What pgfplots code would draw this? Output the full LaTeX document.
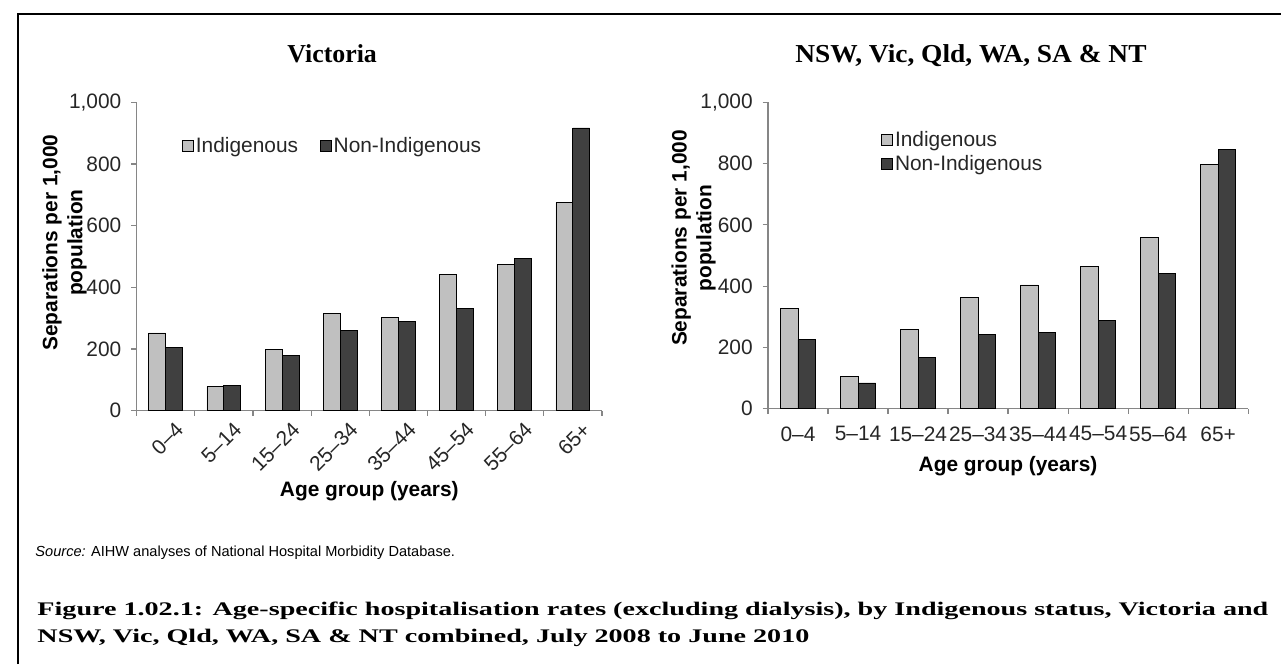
\documentclass[border=0pt]{standalone}
\usepackage{pgfplots}
\pgfplotsset{compat=1.18}
\usepackage{pgfplotstable}
\usepackage{graphicx}
\usepackage{fontspec}
\setmainfont{Liberation Sans}
\newfontfamily\serffont{Liberation Serif}

\definecolor{indig}{HTML}{C0C0C0}
\definecolor{nonind}{HTML}{404040}
\definecolor{axisgray}{HTML}{868686}
\definecolor{txt}{HTML}{262626}

\pgfplotstableread{
x ind non
0 252 206
1 78 83
2 198 178
3 314 260
4 302 289
5 443 331
6 473 493
7 676 917
}\vicdata

\pgfplotstableread{
x ind non
0 326 225
1 104 84
2 259 168
3 363 243
4 404 250
5 463 288
6 559 442
7 796 847
}\alldata

\newcommand\tfont{\fontsize{15.75}{18.75}\selectfont}
\newcommand\capfont{\serffont\bfseries\fontsize{14.5}{17}\selectfont}
\newcommand\capone{Figure 1.02.1: Age-specific hospitalisation rates (excluding dialysis), by Indigenous status, Victoria and}
\newcommand\captwo{NSW, Vic, Qld, WA, SA \& NT combined, July 2008 to June 2010}
\newlength\capw

\pgfplotsset{
  agestyle/.style={
    scale only axis,
    anchor=south west,
    ybar=0pt,
    ymin=0, ymax=1000,
    ytick={0,200,...,1000},
    xmin=-0.5, xmax=7.5,
    xtick={0,...,7},
    xticklabels={0–4,5–14,15–24,25–34,35–44,45–54,55–64,65+},
    minor xtick={-0.5,0.5,...,7.5},
    axis x line=bottom, axis y line=left,
    axis line style={-, draw=axisgray, line width=0.9pt},
    tick align=outside,
    major x tick style={draw=none},
    minor x tick style={draw=axisgray, line width=0.9pt},
    major y tick style={draw=axisgray, line width=0.9pt},
    major tick length=4pt,
    minor tick length=4pt,
    /pgf/number format/1000 sep={,},
    /pgf/number format/assume math mode=true,
    ticklabel style={font=\tfont, text=txt},
    yticklabel style={xshift=-4pt},
    label style={font=\tfont\bfseries, text=black},
    legend style={draw=none, fill=none, inner sep=0pt, outer sep=0pt, font=\tfont, text=txt,
      nodes={inner sep=1.5pt}},
    legend cell align=left,
    legend image code/.code={\draw[##1, draw=black, line width=0.6pt] (0pt,-4.1pt) rectangle (8.25pt,4.1pt);},
    title style={font=\serffont\bfseries\fontsize{19.5}{22}\selectfont, anchor=base, at={(axis description cs:0.5,1)}, yshift=24pt, xshift=-28pt},
    ylabel={Separations per 1,000\\population},
    xlabel={Age group (years)},
    ylabel style={align=center, anchor=center},
    xlabel style={anchor=center},
  }
}

\begin{document}
\settowidth\capw{\capfont\capone}
\pgfmathsetmacro\capfac{928.5/\capw}
\begin{tikzpicture}
\useasboundingbox (0pt,0pt) rectangle (960.75pt,501pt);
\draw[line width=1.5pt] (8.25pt,0pt) -- (8.25pt,490.5pt) -- (960.75pt,490.5pt);

% Left: Victoria
\begin{axis}[agestyle,
  at={(97.5pt,191.25pt)}, width=351pt, height=232.5pt,
  bar width=12.75pt,
  title={Victoria},
  xticklabel style={rotate=45, anchor=east, inner sep=0pt, xshift=2pt, yshift=-13pt},
  ylabel style={at={(axis description cs:-0.155,0.545)}},
  xlabel style={at={(axis description cs:0.5,-0.262)}},
  legend columns=2,
  legend style={at={(0.098,0.858)}, anchor=west,
    /tikz/every odd column/.append style={column sep=0pt},
    /tikz/every even column/.append style={column sep=15pt}},
]
\addplot[fill=indig, draw=black, line width=0.6pt] table[x=x,y=ind]{\vicdata};
\addplot[fill=nonind, draw=black, line width=0.6pt] table[x=x,y=non]{\vicdata};
\legend{Indigenous, Non-Indigenous}
\end{axis}

% Right: NSW, Vic, Qld, WA, SA & NT
\begin{axis}[agestyle,
  at={(573.75pt,192.75pt)}, width=362.25pt, height=231pt,
  bar width=13.25pt,
  title={\scalebox{1.06}[1]{NSW, Vic, Qld, WA, SA \& NT}},
  xticklabel style={yshift=-6pt},
  ylabel style={at={(axis description cs:-0.155,0.557)}},
  xlabel style={at={(axis description cs:0.5,-0.189)}},
  legend style={at={(0.236,0.839)}, anchor=west,
    /tikz/every odd column/.append style={column sep=0pt},
    row sep=2.5pt},
]
\addplot[fill=indig, draw=black, line width=0.6pt] table[x=x,y=ind]{\alldata};
\addplot[fill=nonind, draw=black, line width=0.6pt] table[x=x,y=non]{\alldata};
\legend{Indigenous, Non-Indigenous}
\end{axis}

% Source and caption
\node[anchor=west, inner sep=0pt] at (21pt,84pt) {\fontsize{11}{13}\selectfont\textit{Source:} AIHW analyses of National Hospital Morbidity Database.};
\node[anchor=base west, inner sep=0pt] at (22.5pt,36.75pt) {\scalebox{\capfac}[1]{\capfont\capone}};
\node[anchor=base west, inner sep=0pt] at (22.5pt,16.7pt) {\scalebox{\capfac}[1]{\capfont\captwo}};
\end{tikzpicture}
\end{document}
